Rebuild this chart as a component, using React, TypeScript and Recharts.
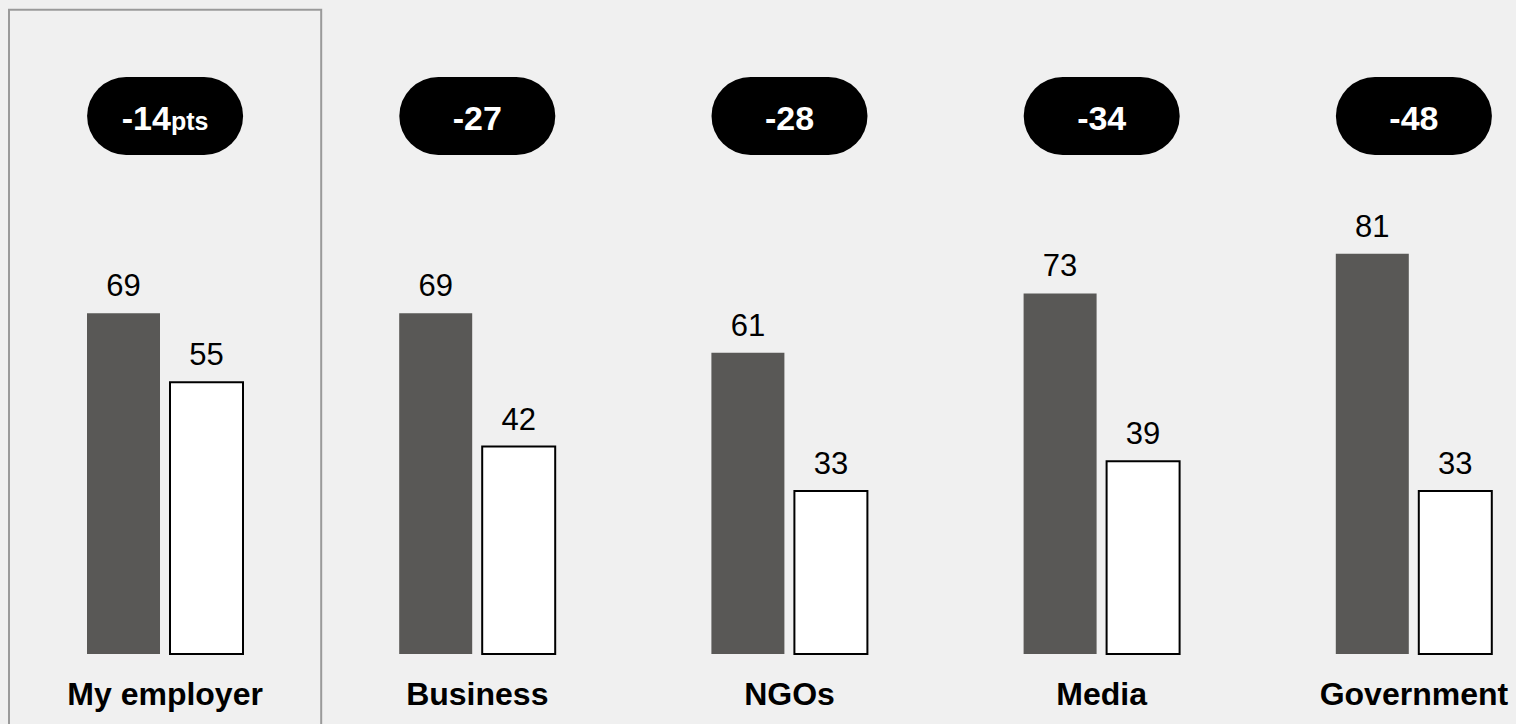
import { Bar, BarChart, XAxis, YAxis, LabelList, ReferenceArea } from 'recharts'

const categories = ['My employer', 'Business', 'NGOs', 'Media', 'Government']
const before = [69, 69, 61, 73, 81]
const after = [55, 42, 33, 39, 33]
const changes = ['-14', '-27', '-28', '-34', '-48']

const data = categories.map((name, i) => ({ name, before: before[i], after: after[i], change: changes[i] }))

const FONT = '"Liberation Sans", Arial, sans-serif'

function PillTick(props: any) {
  const { x, index } = props
  return (
    <g>
      <rect x={x - 78} y={77} width={156} height={78} rx={39} ry={39} fill="#000" />
      <text x={x} y={130} textAnchor="middle" fill="#fff" fontFamily={FONT} fontWeight="bold" fontSize={34}>
        {changes[index]}
        {index === 0 && <tspan fontSize={25}>pts</tspan>}
      </text>
    </g>
  )
}

function CategoryTick(props: any) {
  const { x, payload } = props
  return (
    <text x={x} y={705} textAnchor="middle" fill="#000" fontFamily={FONT} fontWeight="bold" fontSize={32}>
      {payload.value}
    </text>
  )
}

export default function App() {
  return (
    <div style={{ position: 'fixed', left: 0, top: 0, width: 1516, height: 724, overflow: 'hidden', background: '#f0f0f0' }}>
      <BarChart
        width={1570}
        height={724}
        data={data}
        margin={{ top: 0, right: 0, bottom: 0, left: 9 }}
        barSize={73}
        barGap={10}
      >
        <XAxis xAxisId="top" orientation="top" dataKey="name" height={160} axisLine={false} tickLine={false} tick={<PillTick />} interval={0} />
        <XAxis dataKey="name" height={70} axisLine={false} tickLine={false} tick={<CategoryTick />} interval={0} />
        <YAxis hide domain={[0, 100]} />
        <ReferenceArea
          x1="My employer"
          x2="My employer"
          y1={-30}
          y2={130.4}
          ifOverflow="visible"
          fill="none"
          stroke="#9a9a9a"
          strokeWidth={2}
        />
        <Bar dataKey="before" fill="#595856" isAnimationActive={false}>
          <LabelList dataKey="before" position="top" offset={17} fill="#000" fontSize={31} fontFamily={FONT} />
        </Bar>
        <Bar dataKey="after" fill="#ffffff" stroke="#000" strokeWidth={2} isAnimationActive={false}>
          <LabelList dataKey="after" position="top" offset={17} fill="#000" fontSize={31} fontFamily={FONT} />
        </Bar>
      </BarChart>
    </div>
  )
}
